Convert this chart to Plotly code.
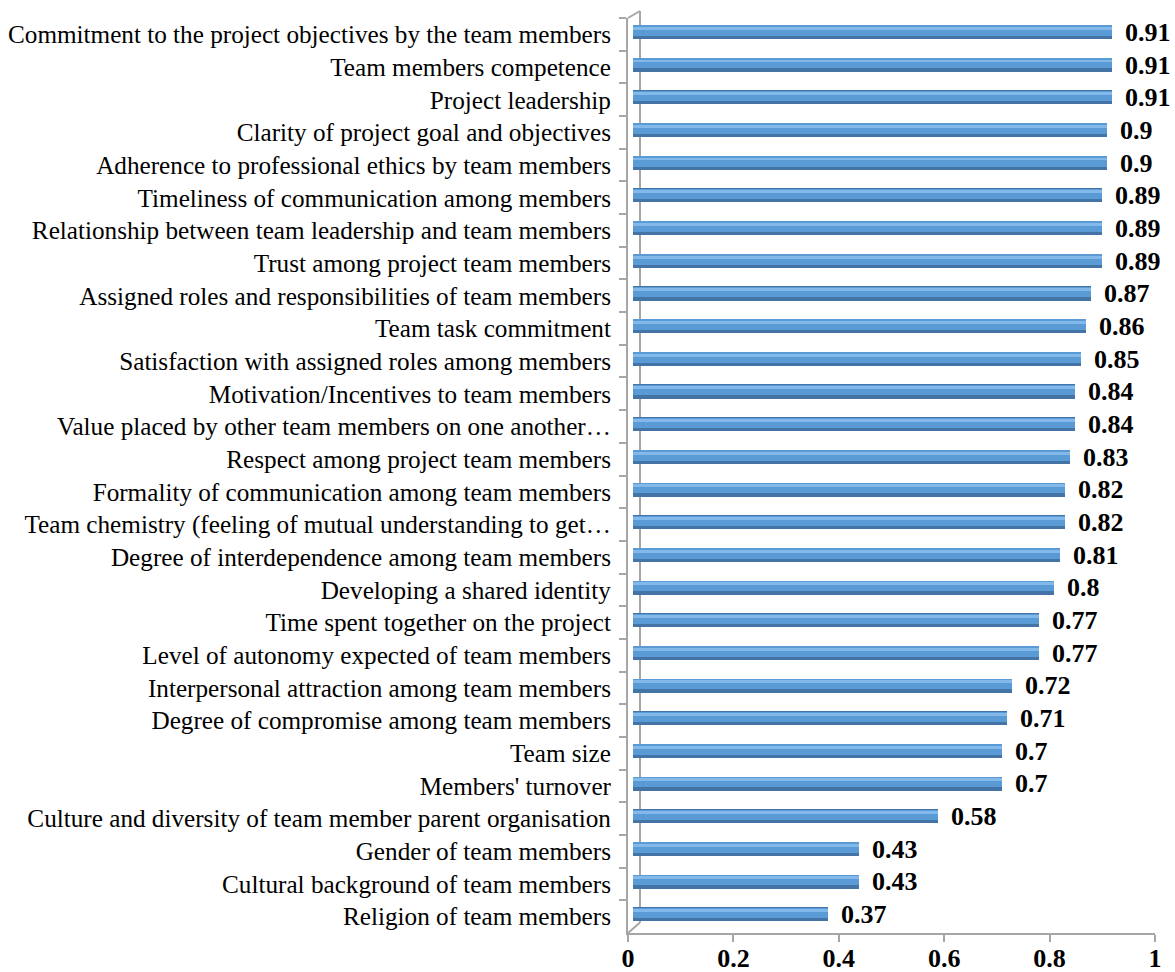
import plotly.graph_objects as go

# Factors (top to bottom) and their mean scores
factors = [
    "Commitment to the project objectives by the team members",
    "Team members competence",
    "Project leadership",
    "Clarity of project goal and objectives",
    "Adherence to professional ethics by team members",
    "Timeliness of communication among members",
    "Relationship between team leadership and team members",
    "Trust among project team members",
    "Assigned roles and responsibilities of team members",
    "Team task commitment",
    "Satisfaction with assigned roles among members",
    "Motivation/Incentives to team members",
    "Value placed by other team members on one another…",
    "Respect among project team members",
    "Formality of communication among team members",
    "Team chemistry (feeling of mutual understanding to get…",
    "Degree of interdependence among team members",
    "Developing a shared identity",
    "Time spent together on the project",
    "Level of autonomy expected of team members",
    "Interpersonal attraction among team members",
    "Degree of compromise among team members",
    "Team size",
    "Members' turnover",
    "Culture and diversity of team member parent organisation",
    "Gender of team members",
    "Cultural background of team members",
    "Religion of team members",
]
scores = [0.91, 0.91, 0.91, 0.9, 0.9, 0.89, 0.89, 0.89, 0.87, 0.86, 0.85, 0.84,
          0.84, 0.83, 0.82, 0.82, 0.81, 0.8, 0.77, 0.77, 0.72, 0.71, 0.7, 0.7,
          0.58, 0.43, 0.43, 0.37]
x_ticks = [0, 0.2, 0.4, 0.6, 0.8, 1]

SERIF = "Liberation Serif, Times New Roman, serif"
AXIS_GREY = "#A6A6A6"

# Plot area size in pixels, used for the pseudo-3D depth of the wall
PLOT_W, PLOT_H = 527, 915
DEPTH_X, DEPTH_Y = 12, 7
bar_shift = (DEPTH_X / 2.5) / PLOT_W   # bars sit slightly inside the wall

fig = go.Figure()

# Invisible trace that keeps the main x/y subplot (and its axes) alive
fig.add_trace(go.Scatter(
    x=scores, y=factors, mode="markers", marker=dict(opacity=0),
    hoverinfo="skip", showlegend=False,
))

# Layered bars give each bar a shaded, cylinder-like look
layers = [
    # (thickness, offset, colour)
    (0.43, -0.285, "#4473A6"),
    (0.32, -0.275, "#5B9BD5"),
    (0.09, -0.23, "#82B8EA"),
]
for w, off, col in layers:
    fig.add_trace(go.Bar(
        x=scores, y=factors, orientation="h", xaxis="x2",
        width=w, offset=off,
        marker=dict(color=col, line=dict(width=0)),
        hoverinfo="skip", showlegend=False,
    ))

# Value labels at the end of each bar
for f, v in zip(factors, scores):
    fig.add_annotation(
        x=v, y=f, xref="x2", yref="y", text=f"<b>{v:g}</b>", showarrow=False,
        xanchor="left", yanchor="middle", xshift=11, yshift=2,
        font=dict(family=SERIF, size=26, color="#000000"),
    )

# Back edge of the side wall
dx, dy = DEPTH_X / PLOT_W, DEPTH_Y / PLOT_H
wall = dict(type="line", xref="x domain", yref="y domain",
            line=dict(color=AXIS_GREY, width=2), layer="below")
fig.add_shape(**wall, x0=dx, x1=dx, y0=1.5 * dy, y1=1 + dy)
fig.add_shape(**wall, x0=0, x1=dx, y0=0, y1=1.5 * dy)
fig.add_shape(**wall, x0=0, x1=dx, y0=1, y1=1 + dy)

n = len(factors)
fig.update_layout(
    width=1175, height=972,
    margin=dict(l=628, r=20, t=18, b=39),
    paper_bgcolor="white", plot_bgcolor="white",
    barmode="overlay",
    bargap=0,
    xaxis=dict(
        range=[0, 1], tickvals=x_ticks,
        ticktext=[f"<b>{t:g}</b>" for t in x_ticks],
        tickfont=dict(family=SERIF, size=26, color="#000000"),
        showgrid=False, zeroline=False, automargin=False,
        showline=True, linecolor=AXIS_GREY, linewidth=2,
        ticks="outside", ticklen=7, tickcolor=AXIS_GREY, tickwidth=1.5,
        ticklabelstandoff=-6,
    ),
    xaxis2=dict(overlaying="x", range=[-bar_shift, 1 - bar_shift],
                visible=False, showgrid=False, zeroline=False),
    yaxis=dict(
        type="category", categoryorder="array", categoryarray=factors,
        range=[n - 0.5, -0.5],
        tickfont=dict(family=SERIF, size=25.2, color="#000000"),
        showgrid=False, zeroline=False, automargin=False,
        showline=True, linecolor=AXIS_GREY, linewidth=2,
        ticks="outside", ticklen=7, tickcolor=AXIS_GREY, tickwidth=1.5,
        tickson="boundaries", ticklabelstandoff=10,
    ),
)

fig.write_html("out.html")
